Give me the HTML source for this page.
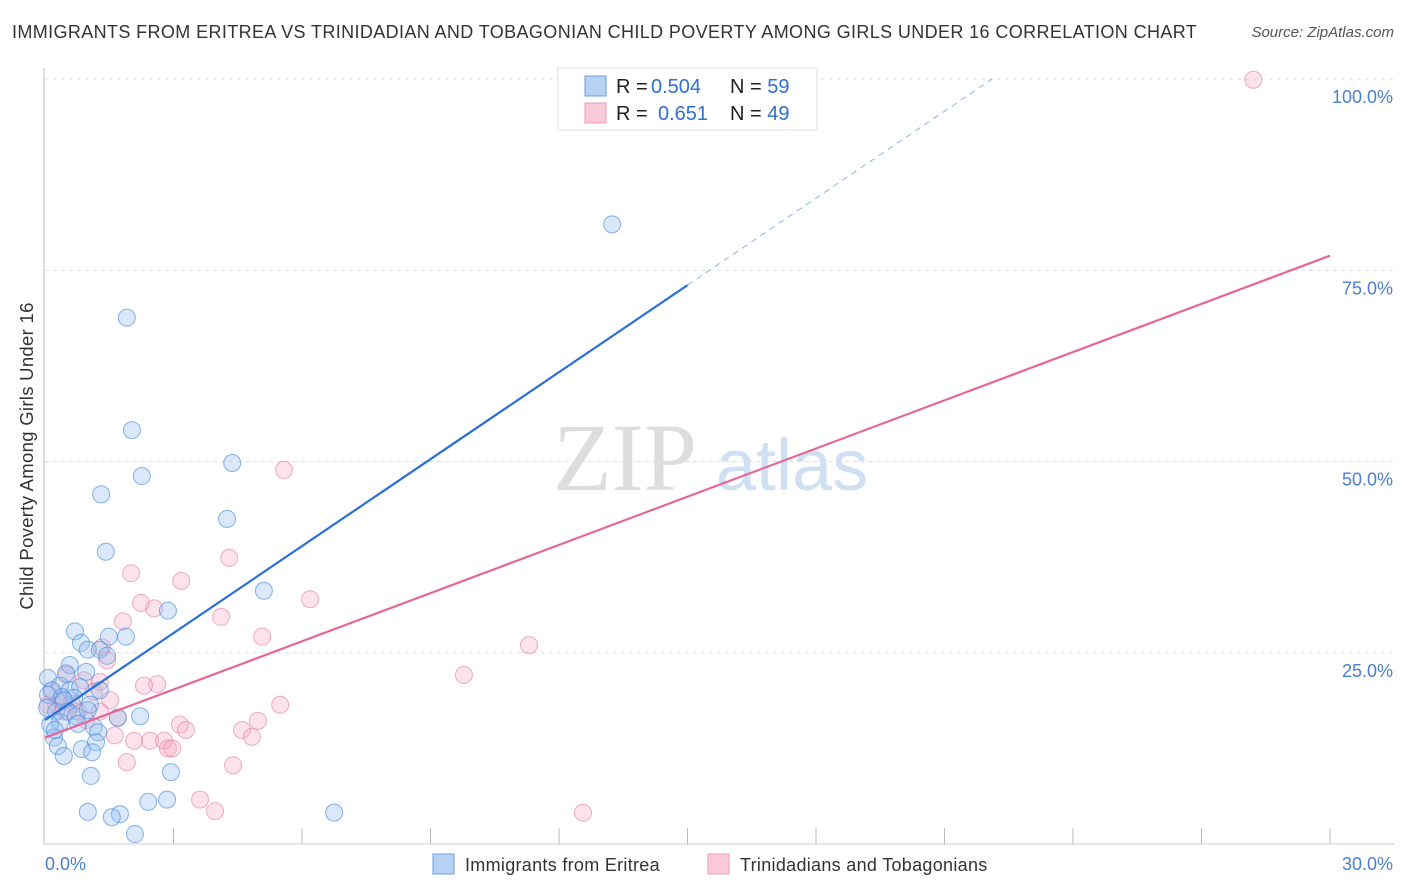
<!DOCTYPE html>
<html><head><meta charset="utf-8"><style>
body{margin:0;background:#fff;font-family:"Liberation Sans",sans-serif;}
#wrap{position:relative;width:1406px;height:892px;overflow:hidden;}
.t{position:absolute;white-space:nowrap;}
</style></head><body>
<div id="wrap">
<div class="t" style="left:12px;top:22px;font-size:18px;color:#333;letter-spacing:0.38px;">IMMIGRANTS FROM ERITREA VS TRINIDADIAN AND TOBAGONIAN CHILD POVERTY AMONG GIRLS UNDER 16 CORRELATION CHART</div>
<div class="t" style="right:12px;top:24px;font-size:15px;color:#555;font-style:italic;">Source: ZipAtlas.com</div>
<svg id="svg" width="1406" height="892" style="position:absolute;left:0;top:0"></svg>
</div>
<script>
const blueX=[13.24,1.91,2.03,4.37,2.26,1.31,4.25,1.42,5.11,2.87,0.70,0.84,1.49,1.89,1.00,1.28,1.45,0.58,0.49,0.96,0.07,0.35,0.58,0.16,0.82,0.07,0.40,0.68,1.05,0.05,0.26,0.54,0.72,1.00,1.70,2.22,0.35,0.12,0.77,1.14,1.24,0.21,0.30,1.19,0.86,1.10,0.44,1.07,2.94,1.00,2.41,2.85,1.75,1.56,6.75,2.10,0.23,0.44,1.28];
const blueY=[81.0,68.8,54.1,49.8,48.1,45.7,42.5,38.2,33.1,30.5,27.8,26.3,27.1,27.1,25.4,25.4,24.6,23.4,22.3,22.5,21.7,20.7,20.1,20.1,20.5,19.5,19.2,19.1,18.2,17.8,17.3,17.3,16.7,17.5,16.5,16.7,15.9,15.6,15.7,15.3,14.6,13.9,12.8,13.3,12.4,12.0,11.5,8.9,9.4,4.2,5.5,5.8,3.9,3.5,4.1,1.3,14.9,18.8,20.1];
const pinkX=[28.21,5.58,4.30,2.01,3.18,6.19,2.24,2.55,4.11,1.82,5.07,11.30,9.78,1.33,1.45,0.51,0.91,1.28,5.49,2.62,2.31,1.52,1.14,0.16,0.35,0.63,0.47,1.28,1.70,0.96,4.97,3.15,3.29,4.60,4.83,1.63,2.08,2.45,2.78,2.87,2.97,1.91,4.39,3.62,3.97,12.56,0.26,0.77,0.07];
const pinkY=[99.9,48.9,37.4,35.4,34.4,32.0,31.5,30.8,29.7,29.1,27.1,26.0,22.1,25.7,24.0,22.1,21.4,21.2,18.2,20.9,20.7,18.8,19.9,19.9,18.8,18.3,17.3,17.3,16.5,16.2,16.1,15.6,14.9,14.9,14.0,14.2,13.5,13.5,13.5,12.5,12.5,10.7,10.3,5.8,4.3,4.1,18.2,17.3,18.2];
const blueTrend=[16.2,3.79];
const pinkTrend=[13.9,2.10];
const yTicks=[25,50,75,100];
const yTickLabels=["25.0%","50.0%","75.0%","100.0%"];
const xTicks=[3,6,9,12,15,18,21,24,27,30];

const sx=v=>45+v*1285/30, sy=v=>844-v*7.65;
const svg=document.getElementById('svg');
const NS='http://www.w3.org/2000/svg';
function mk(tag,attrs,parent){const e=document.createElementNS(NS,tag);for(const k in attrs)e.setAttribute(k,attrs[k]);(parent||svg).appendChild(e);return e;}

let wm=mk('text',{x:553,y:490,'font-size':96,'font-family':'Liberation Serif',fill:'#ddd'});wm.textContent='ZIP';


let wm2=mk('text',{x:716,y:490,'font-size':72,'font-family':'Liberation Sans',fill:'#cfe0f3'});wm2.textContent='atlas';



yTicks.forEach((v,i)=>{
 const g=mk('line',{x1:45,x2:1395,y1:sy(v),y2:sy(v),stroke:'#ddd','stroke-dasharray':'4,4'});
 
 
 const t=mk('text',{x:1393,y:sy(v)+24,'text-anchor':'end','font-size':18,fill:'#4a7fd0'});t.textContent=yTickLabels[i];
 
 
});
let ax=mk('line',{x1:44,x2:44,y1:68,y2:844,stroke:'#bbb'});


let bx=mk('line',{x1:44,x2:1395,y1:844,y2:844,stroke:'#ccc'});


xTicks.forEach(v=>{
 const l=mk('line',{x1:sx(v),x2:sx(v),y1:828,y2:844,stroke:'#bbb'});
 
 
});
let xl0=mk('text',{x:45,y:870,'font-size':18,fill:'#4a7fd0'});xl0.textContent='0.0%';


let xl1=mk('text',{x:1393,y:870,'text-anchor':'end','font-size':18,fill:'#4a7fd0'});xl1.textContent='30.0%';


let yt=mk('text',{x:33,y:456,'font-size':18.5,fill:'#333','text-anchor':'middle','letter-spacing':'0.3',transform:'rotate(-90 33 456)'});yt.textContent='Child Poverty Among Girls Under 16';



function pts(X,Y,fill,stroke,name){X.forEach((x,i)=>{
 const c=mk('circle',{cx:sx(x),cy:sy(Y[i]),r:8.5,fill:fill,stroke:stroke,'stroke-width':1});
 
 
});}
pts(pinkX,pinkY,'rgba(245,170,195,0.33)','rgba(230,120,160,0.6)','pink-point');
pts(blueX,blueY,'rgba(150,190,240,0.35)','rgba(70,140,220,0.65)','blue-point');

const bEnd=15;
let bl=mk('line',{x1:sx(0),y1:sy(blueTrend[0]),x2:sx(bEnd),y2:sy(blueTrend[0]+blueTrend[1]*bEnd),stroke:'#2a6fd6','stroke-width':2.2});


const bTop=(100-blueTrend[0])/blueTrend[1];
let bd=mk('line',{x1:sx(bEnd),y1:sy(blueTrend[0]+blueTrend[1]*bEnd),x2:sx(bTop),y2:sy(100),stroke:'#8fb3e6','stroke-width':1,'stroke-dasharray':'6,5'});


let pl=mk('line',{x1:sx(0),y1:sy(pinkTrend[0]),x2:sx(30),y2:sy(pinkTrend[0]+pinkTrend[1]*30),stroke:'#e4679a','stroke-width':2.2});



let lg=mk('rect',{x:558,y:68,width:259,height:62,fill:'#fff',stroke:'#ddd'});


[[86,'rgba(150,190,240,0.7)','#6d9fe0','0.504','59',651],[113,'rgba(248,190,208,0.8)','#eb9ab5','0.651','49',658]].forEach(r=>{
 const s=mk('rect',{x:585,y:r[0]-10,width:21,height:20,fill:r[1],stroke:r[2]});
 
 
 const t=mk('text',{x:616,y:r[0]+7,'font-size':20,fill:'#222'});
 t.innerHTML='R = <tspan fill="#2f6fd4" x="'+r[5]+'">'+r[3]+'</tspan><tspan x="730">N = </tspan><tspan fill="#2f6fd4">'+r[4]+'</tspan>';
 
 
});
[[433,'rgba(150,190,240,0.7)','#6d9fe0','Immigrants from Eritrea'],[708,'rgba(248,190,208,0.8)','#eb9ab5','Trinidadians and Tobagonians']].forEach(r=>{
 const s=mk('rect',{x:r[0],y:854,width:21,height:20,fill:r[1],stroke:r[2]});
 
 
 const t=mk('text',{x:r[0]+32,y:871,'font-size':18,fill:'#333','letter-spacing':'0.3'});t.textContent=r[3];
 
 
});
</script>
</body></html>
